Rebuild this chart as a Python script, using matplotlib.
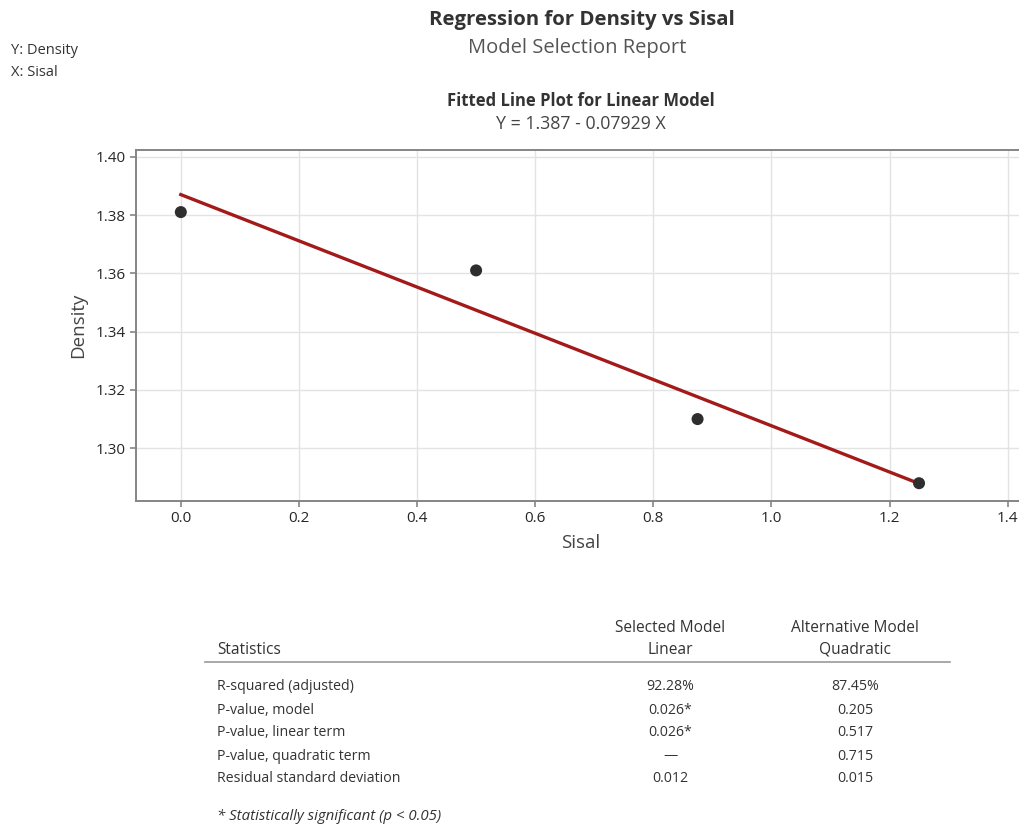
import matplotlib
matplotlib.use("Agg")
import matplotlib.pyplot as plt
import numpy as np

# Observed data
sisal = [0.0, 0.5, 0.875, 1.25]
density = [1.381, 1.361, 1.310, 1.288]

# Fitted linear model: Y = b0 + b1 X
intercept = 1.387
slope = -0.07929

x_ticks = [0.0, 0.2, 0.4, 0.6, 0.8, 1.0, 1.2, 1.4]
y_ticks = [1.30, 1.32, 1.34, 1.36, 1.38, 1.40]

# Model selection statistics
stat_names = ["R-squared (adjusted)", "P-value, model", "P-value, linear term",
              "P-value, quadratic term", "Residual standard deviation"]
linear_vals = ["92.28%", "0.026*", "0.026*", "\u2014", "0.012"]
quad_vals = ["87.45%", "0.205", "0.517", "0.715", "0.015"]

plt.rcParams["font.family"] = ["Open Sans", "DejaVu Sans"]

W, H = 1019, 827
fig = plt.figure(figsize=(W / 100, H / 100), dpi=100)
fig.patch.set_facecolor("white")


def fx(px):
    return px / W


def fy(py):
    return 1 - py / H


# Header texts
fig.text(fx(582), fy(20), "Regression for Density vs Sisal", ha="center", va="center",
         fontsize=14.7, fontweight="bold", color="#333333")
fig.text(fx(577), fy(48), "Model Selection Report", ha="center", va="center",
         fontsize=14.5, color="#555555")
fig.text(fx(11), fy(50), "Y: Density", ha="left", va="center", fontsize=10.5, color="#333333")
fig.text(fx(11), fy(73), "X: Sisal", ha="left", va="center", fontsize=10.5, color="#333333")
fig.text(fx(581), fy(101), "Fitted Line Plot for Linear Model", ha="center", va="center",
         fontsize=12, fontweight="bold", color="#333333")
fig.text(fx(581), fy(124), "Y = 1.387 - 0.07929 X", ha="center", va="center",
         fontsize=12.8, color="#444444")

# Fitted line plot
left_px, top_px, bottom_px = 135.7, 150, 501
xmin, xmax = -0.0764, 1.43
px_per_x = (1007.5 - 180.7) / 1.4
right_px = left_px + (xmax - xmin) * px_per_x
ax = fig.add_axes([fx(left_px), fy(bottom_px), (right_px - left_px) / W, (bottom_px - top_px) / H])
ax.set_xlim(xmin, xmax)
ax.set_ylim(1.2819, 1.4023)

ax.grid(True, color="#e3e3e3", linewidth=1)
ax.set_axisbelow(True)
for side, sp in ax.spines.items():
    sp.set_color("#858585")
    sp.set_linewidth(1.4)
ax.spines["right"].set_visible(False)

ax.set_xticks(x_ticks)
ax.set_xticklabels([f"{v:.1f}" for v in x_ticks])
ax.set_yticks(y_ticks)
ax.set_yticklabels([f"{v:.2f}" for v in y_ticks])
ax.tick_params(axis="both", length=4, width=1.2, color="#858585", labelsize=11,
               labelcolor="#262626", pad=3)

x_line = np.array([min(sisal), max(sisal)])
ax.plot(x_line, intercept + slope * x_line, color="#a31a1a", linewidth=2.4, zorder=2)
ax.scatter(sisal, density, s=75, color="#2e2e2e", zorder=3, edgecolors="none")

ax.set_xlabel("Sisal", fontsize=13.5, color="#444444", labelpad=6)
ax.set_ylabel("Density", fontsize=13.5, color="#444444", labelpad=6)

# Statistics table
col1_x, col2_x = 670, 855
head_fs, body_fs = 11.2, 10.2
fig.text(fx(217), fy(650), "Statistics", ha="left", va="center", fontsize=head_fs, color="#333333")
fig.text(fx(col1_x), fy(628), "Selected Model", ha="center", va="center", fontsize=head_fs, color="#333333")
fig.text(fx(col1_x), fy(650), "Linear", ha="center", va="center", fontsize=head_fs, color="#333333")
fig.text(fx(col2_x), fy(628), "Alternative Model", ha="center", va="center", fontsize=head_fs, color="#333333")
fig.text(fx(col2_x), fy(650), "Quadratic", ha="center", va="center", fontsize=head_fs, color="#333333")
fig.add_artist(plt.Line2D([fx(205), fx(950)], [fy(662), fy(662)], color="#999999", linewidth=1.2))

row_y = [687, 710, 733, 756, 779]
for name, lv, qv, y in zip(stat_names, linear_vals, quad_vals, row_y):
    fig.text(fx(217), fy(y), name, ha="left", va="center", fontsize=body_fs, color="#333333")
    fig.text(fx(col1_x), fy(y), lv, ha="center", va="center", fontsize=body_fs, color="#333333")
    fig.text(fx(col2_x), fy(y), qv, ha="center", va="center", fontsize=body_fs, color="#333333")

fig.text(fx(217), fy(817), "* Statistically significant (p < 0.05)", ha="left", va="center",
         fontsize=10.8, style="italic", color="#333333")

fig.savefig("out.png", dpi=100)
